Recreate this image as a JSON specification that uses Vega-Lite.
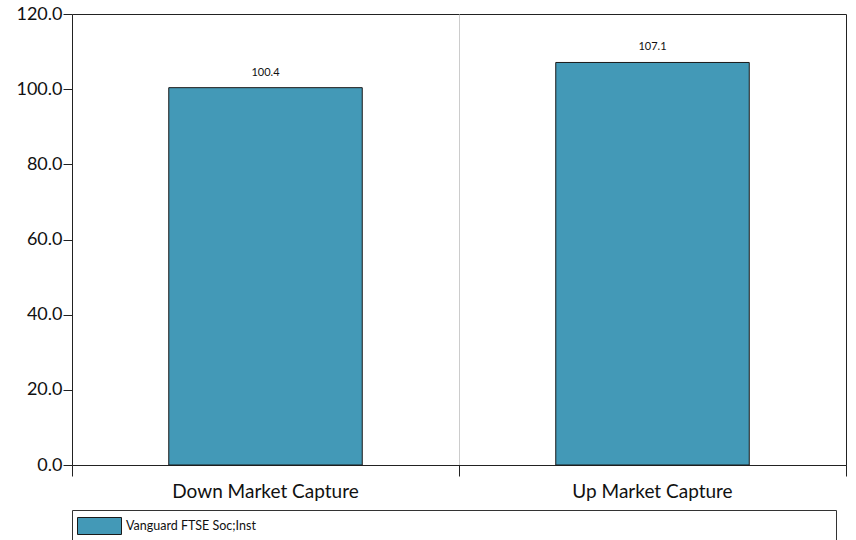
{
  "$schema": "https://vega.github.io/schema/vega-lite/v6.json",
  "autosize": {"type": "none"},
  "width": 774,
  "height": 451,
  "padding": {"left": 72, "top": 14, "right": 10, "bottom": 75},
  "background": "white",
  "config": {
    "font": "Lato",
    "view": {"stroke": "#222", "strokeWidth": 1},
    "axis": {"labelFont": "Lato", "labelColor": "#111", "domainColor": "#222", "tickColor": "#222"}
  },
  "data": {
    "values": [
      {"measure": "Down Market Capture", "value": 100.4, "series": "Vanguard FTSE Soc;Inst"},
      {"measure": "Up Market Capture", "value": 107.1, "series": "Vanguard FTSE Soc;Inst"}
    ]
  },
  "encoding": {
    "x": {
      "field": "measure",
      "type": "nominal",
      "sort": null,
      "scale": {"paddingInner": 0, "paddingOuter": 0},
      "axis": {
        "title": null,
        "labelAngle": 0,
        "labelFontSize": 19,
        "labelLimit": 400,
        "labelPadding": 6,
        "tickSize": 11,
        "bandPosition": 1,
        "tickExtra": true,
        "grid": true,
        "gridColor": "#cccccc",
        "domainColor": "#222"
      }
    },
    "y": {
      "field": "value",
      "type": "quantitative",
      "scale": {"domain": [0, 120], "nice": false},
      "axis": {
        "title": null,
        "values": [0, 20, 40, 60, 80, 100, 120],
        "format": ".1f",
        "labelFontSize": 18,
        "labelPadding": 1,
        "tickSize": 9,
        "grid": false
      }
    }
  },
  "layer": [
    {
      "mark": {"type": "bar", "width": {"band": 0.5}, "stroke": "#1a1a1a", "strokeWidth": 1},
      "encoding": {
        "color": {
          "field": "series",
          "type": "nominal",
          "scale": {"range": ["#4399b7"]},
          "legend": {
            "orient": "none",
            "legendX": 0,
            "legendY": 496,
            "direction": "vertical",
            "title": null,
            "strokeColor": "#333",
            "padding": 7,
            "symbolType": "M-1.235,-1H3.94V1H-1.235Z",
            "symbolSize": 289,
            "symbolStrokeColor": "#1a1a1a",
            "symbolStrokeWidth": 1,
            "symbolOpacity": 1,
            "labelFontSize": 12.5,
            "labelFont": "Lato",
            "labelColor": "#111",
            "labelOffset": 29,
            "labelLimit": 760,
            "labelExpr": "datum.label + '\u2003\u2003\u2003\u2003\u2003\u2003\u2003\u2003\u2003\u2003\u2003\u2003\u2003\u2003\u2003\u2003\u2003\u2003\u2003\u2003\u2003\u2003\u2003\u2003\u2003\u2003\u2003\u2003\u2003\u2003\u2003\u2003\u2003\u2003\u2003\u2003\u2003\u2003\u2003\u2003\u2003\u2003\u2003\u2003\u2003\u2003\u2003\u2003\u2003\u2003\u2003\u2003\u2003\u2003\u2003\u2003\u2003\u2003\u2003\u2003\u2800'"
          }
        }
      }
    },
    {
      "mark": {"type": "text", "baseline": "bottom", "dy": -10, "fontSize": 11, "font": "Lato", "color": "#111"},
      "encoding": {
        "y": {
          "field": "value",
          "type": "quantitative",
          "axis": {"orient": "right", "labels": false, "ticks": false, "grid": false, "title": null, "domainColor": "#222"}
        },
        "text": {"field": "value", "type": "quantitative", "format": ".1f"}
      }
    }
  ],
  "resolve": {"axis": {"y": "independent"}}
}
